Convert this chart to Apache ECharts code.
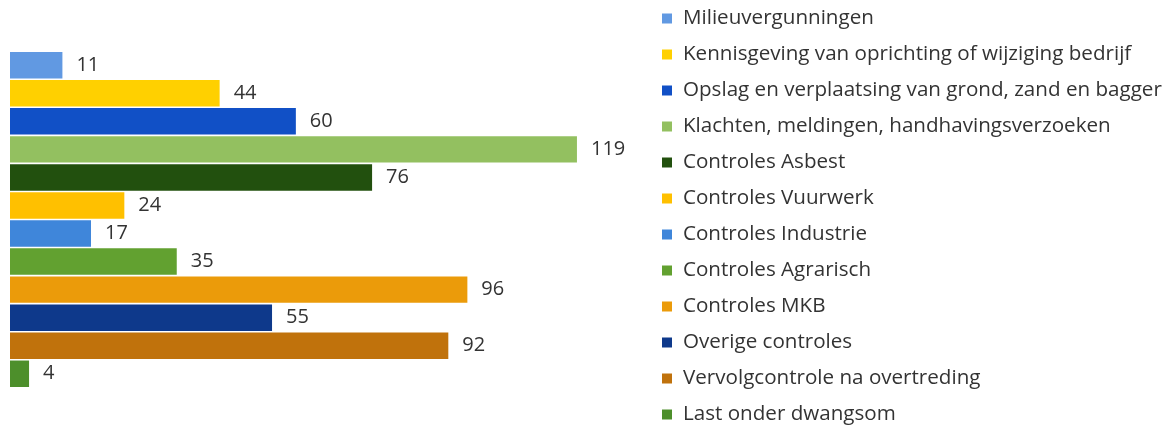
<!DOCTYPE html>
<html>
<head>
<meta charset="utf-8">
<script src="https://cdn.jsdelivr.net/npm/echarts@6/dist/echarts.min.js"></script>
<style>
  html, body { margin: 0; padding: 0; background: #fff; }
  #chart { width: 1168px; height: 428px; }
</style>
</head>
<body>
<div id="chart"></div>
<script>
const seriesNames = [
  'Milieuvergunningen',
  'Kennisgeving van oprichting of wijziging bedrijf',
  'Opslag en verplaatsing van grond, zand en bagger',
  'Klachten, meldingen, handhavingsverzoeken',
  'Controles Asbest',
  'Controles Vuurwerk',
  'Controles Industrie',
  'Controles Agrarisch',
  'Controles MKB',
  'Overige controles',
  'Vervolgcontrole na overtreding',
  'Last onder dwangsom'
];
const values = [11, 44, 60, 119, 76, 24, 17, 35, 96, 55, 92, 4];
const colors = ['#6199e2', '#ffd000', '#1150c6', '#93c060', '#22500e', '#ffc000',
  '#3f86da', '#62a130', '#eb9b0a', '#0e398b', '#c0720c', '#4d8f2b'];

let myChart = echarts.init(document.getElementById('chart'));
let option = {
  animation: false,
  legend: {
    orient: 'vertical',
    left: 662,
    top: 8,
    height: 420,
    padding: 0,
    icon: 'rect',
    itemWidth: 10,
    itemHeight: 10,
    itemGap: 15,
    selectedMode: false,
    textStyle: { fontFamily: 'Open Sans', fontSize: 20.6, color: '#333', lineHeight: 20, padding: [0, 0, 0, 6] },
    data: seriesNames
  },
  grid: { left: 10, top: 52, width: 667, height: 335 },
  xAxis: { type: 'value', min: 0, max: 140, show: false },
  yAxis: { type: 'category', data: [''], inverse: true, show: false },
  series: seriesNames.map((name, i) => ({
    name: name,
    type: 'bar',
    data: [values[i]],
    barGap: '6%',
    barCategoryGap: 0,
    itemStyle: { color: colors[i] },
    label: {
      show: true,
      position: 'right',
      distance: 14,
      fontFamily: 'Open Sans',
      fontSize: 20,
      color: '#333'
    }
  }))
};
myChart.setOption(option);
</script>
</body>
</html>
